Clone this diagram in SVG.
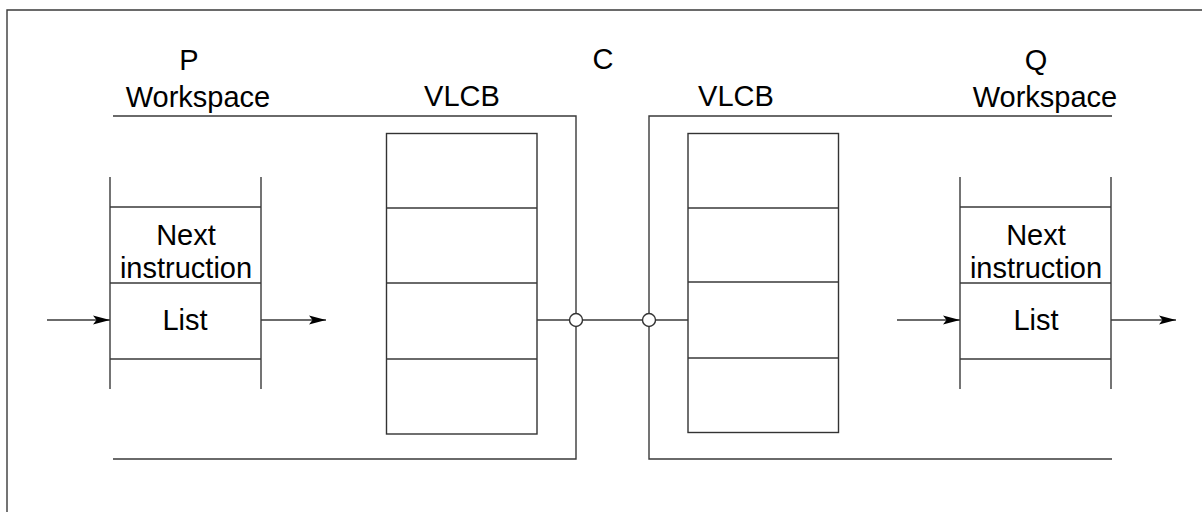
<svg xmlns="http://www.w3.org/2000/svg" width="1202" height="512" viewBox="0 0 1202 512">
<style>
.ln{stroke:#3a3a3a;stroke-width:1.4;fill:none}
.bx{stroke:#333;stroke-width:1.4;fill:#fff}
.t{font-family:"Liberation Sans",Arial,sans-serif;font-size:29px;fill:#000;text-anchor:middle}
</style>
<defs>
<marker id="ah" markerWidth="18" markerHeight="12" refX="17" refY="5" orient="auto" markerUnits="userSpaceOnUse">
<path d="M0,0.5 L17,5 L0,9.5 L3.5,5 Z" fill="#000"/>
</marker>
</defs>
<rect width="1202" height="512" fill="#fff"/>
<g id="frame"><path class="ln" d="M7,520 V10 H1210"/></g>
<g id="labels">
<text class="t" x="189" y="70">P</text>
<text class="t" x="198" y="107">Workspace</text>
<text class="t" x="603" y="69">C</text>
<text class="t" x="462" y="106">VLCB</text>
<text class="t" x="736" y="106">VLCB</text>
<text class="t" x="1036" y="70">Q</text>
<text class="t" x="1045" y="107">Workspace</text>
</g>
<g id="p-wall"><path class="ln" d="M113,116 H576 V459 H113"/></g>
<g id="q-wall"><path class="ln" d="M1112,116 H649 V459 H1112"/></g>
<g id="p-stack">
<path class="ln" d="M110,177 V389 M261,177 V389 M110,207 H261 M110,283 H261 M110,359 H261"/>
<text class="t" x="186" y="245">Next</text>
<text class="t" x="186" y="278">instruction</text>
<text class="t" x="185" y="330">List</text>
</g>
<g id="q-stack">
<path class="ln" d="M960,177 V389 M1111,177 V389 M960,207 H1111 M960,283 H1111 M960,359 H1111"/>
<text class="t" x="1036" y="245">Next</text>
<text class="t" x="1036" y="278">instruction</text>
<text class="t" x="1036" y="330">List</text>
</g>
<g id="vlcb-p">
<rect class="bx" x="386.5" y="133.5" width="150.5" height="300.5"/>
<path class="ln" d="M386.5,208 H537 M386.5,283 H537 M386.5,359 H537"/>
</g>
<g id="vlcb-q">
<rect class="bx" x="688" y="133.5" width="150.5" height="299"/>
<path class="ln" d="M688,208 H838.5 M688,282 H838.5 M688,358 H838.5"/>
</g>
<g id="connectors">
<line class="ln" x1="537" y1="320" x2="688" y2="320"/>
<circle cx="576" cy="320" r="6.5" fill="#fff" stroke="#333" stroke-width="1.4"/>
<circle cx="649" cy="320" r="6.5" fill="#fff" stroke="#333" stroke-width="1.4"/>
<line class="ln" x1="47" y1="320" x2="110" y2="320" marker-end="url(#ah)" stroke="#000"/>
<line class="ln" x1="261" y1="320" x2="326" y2="320" marker-end="url(#ah)" stroke="#000"/>
<line class="ln" x1="897" y1="320" x2="960" y2="320" marker-end="url(#ah)" stroke="#000"/>
<line class="ln" x1="1111" y1="320" x2="1176" y2="320" marker-end="url(#ah)" stroke="#000"/>
</g>
</svg>
